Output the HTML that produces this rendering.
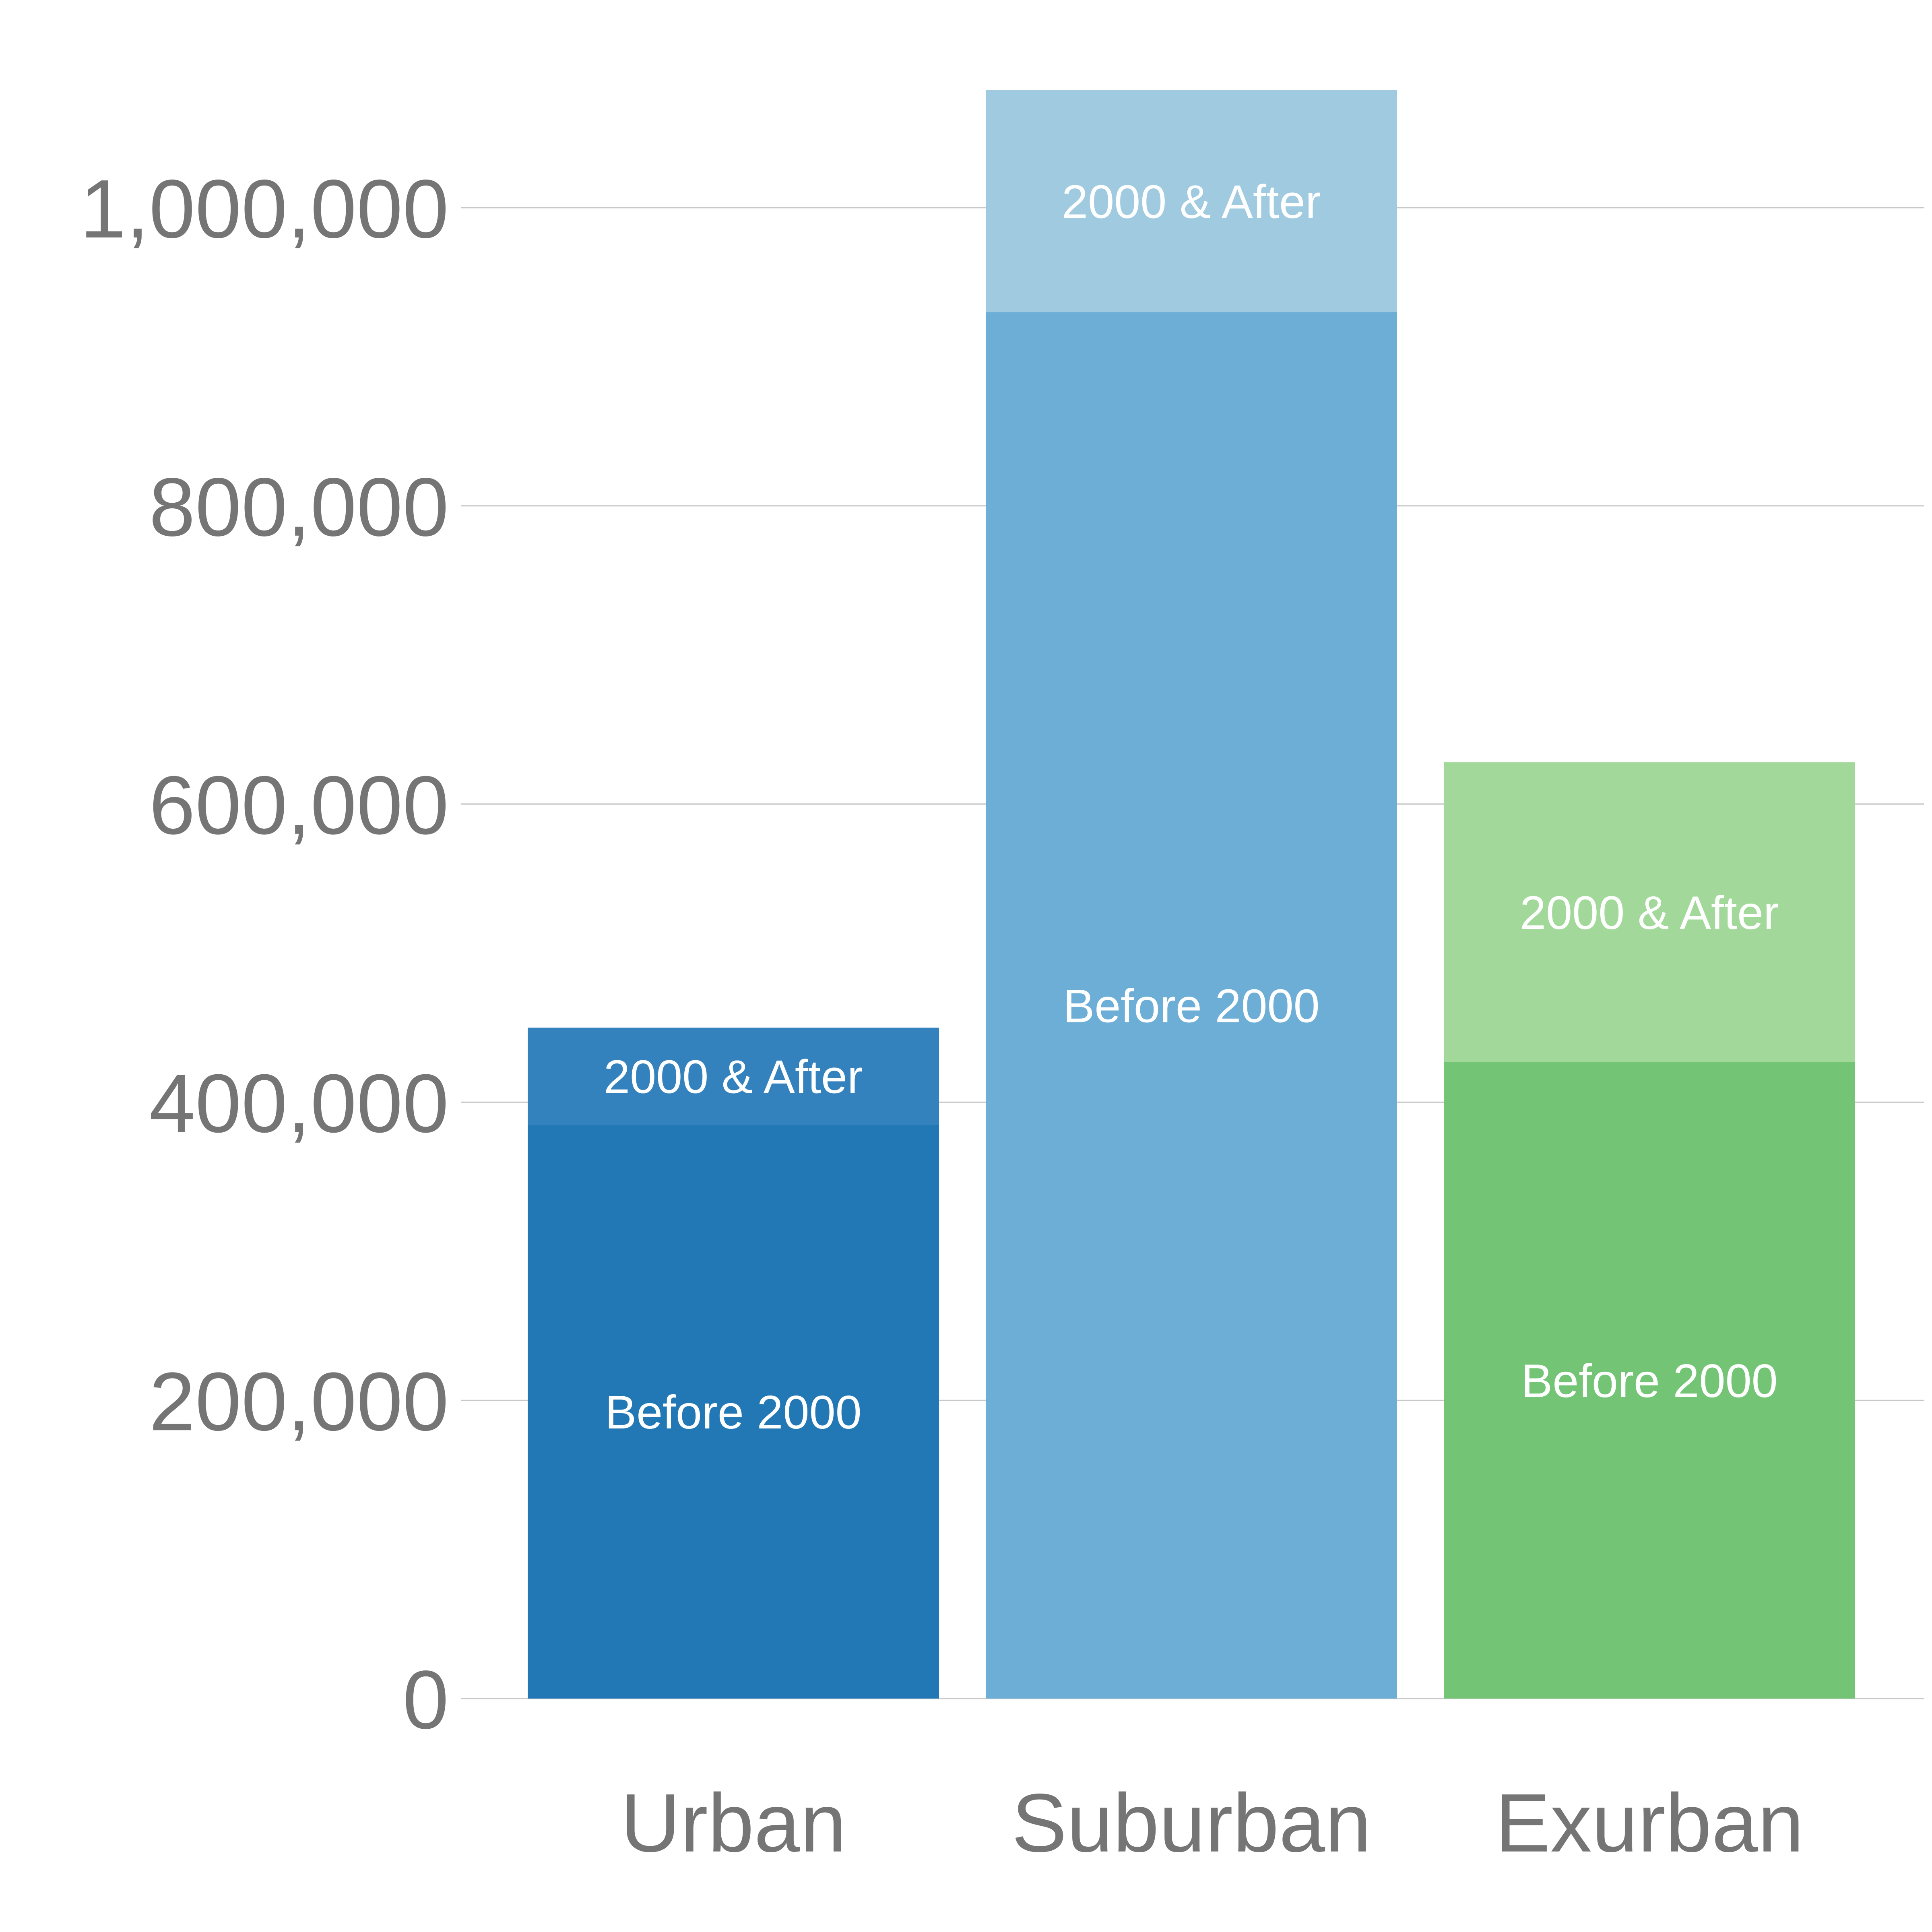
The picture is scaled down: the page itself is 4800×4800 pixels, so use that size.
<!DOCTYPE html>
<html><head><meta charset="utf-8"><style>
html,body{margin:0;padding:0;background:#fff;}
svg{display:block;}
text{font-family:"Liberation Sans",Arial,sans-serif;}
</style></head><body>
<svg id="chart" width="4800" height="4800" viewBox="0 0 4800 4800" xmlns="http://www.w3.org/2000/svg">
<g id="grid"></g>
<g id="yticks"></g>
<g id="bars"></g>
<g id="xlabels"></g>
</svg>
<script>
const categories = ["Urban", "Suburban", "Exurban"];
const before2000 = [385000, 930000, 427000];
const after2000 = [65000, 149000, 201000];
const yTicks = [0, 200000, 400000, 600000, 800000, 1000000];
const yTickLabels = ["0", "200,000", "400,000", "600,000", "800,000", "1,000,000"];
const seriesNames = ["Before 2000", "2000 & After"];

const colorsBefore = ["#2178b4", "#6daed7", "#74c476"];
const colorsAfter = ["#3382be", "#9fcae0", "#a2d89a"];
const NS = "http://www.w3.org/2000/svg";
const y0 = 4220, yPer = 3704 / 1000000;
function yScale(v){ return y0 - v * yPer; }
const bandStart = 1311, bandStep = 1138, barW = 1022;
function xScale(i){ return bandStart + i * bandStep; }
function mk(tag, attrs, parent){ const e=document.createElementNS(NS,tag); for(const k in attrs) e.setAttribute(k,attrs[k]); parent.appendChild(e); return e; }

const grid=document.getElementById('grid'), yt=document.getElementById('yticks'), bars=document.getElementById('bars'), xl=document.getElementById('xlabels');
yTicks.forEach((t,i)=>{
  const y=yScale(t);
  const l=mk('line',{x1:1145,x2:4780,y1:y,y2:y,stroke:'#c8c8c8','stroke-width':3},grid);
  
  
  const tx=mk('text',{x:1115,y:y+74,'text-anchor':'end','font-size':206,fill:'#757575'},yt);
  tx.textContent=yTickLabels[i];
  
  
});
categories.forEach((c,i)=>{
  const x=xScale(i);
  const b=before2000[i], a=after2000[i];
  const yb=yScale(b), yt2=yScale(b+a);
  const r1=mk('rect',{x:x,y:yb,width:barW,height:y0-yb,fill:colorsBefore[i]},bars);
  
  
  const r2=mk('rect',{x:x,y:yt2,width:barW,height:yb-yt2,fill:colorsAfter[i]},bars);
  
  
  const t1=mk('text',{x:x+barW/2,y:(y0+yb)/2+42,'text-anchor':'middle','font-size':117,fill:'#fff'},bars);
  t1.textContent=seriesNames[0];
  
  
  const t2=mk('text',{x:x+barW/2,y:(yb+yt2)/2+42,'text-anchor':'middle','font-size':117,fill:'#fff'},bars);
  t2.textContent=seriesNames[1];
  
  
  const cl=mk('text',{x:x+barW/2,y:4600,'text-anchor':'middle','font-size':206,fill:'#757575'},xl);
  cl.textContent=c;
  
  
});
</script>
</body></html>
